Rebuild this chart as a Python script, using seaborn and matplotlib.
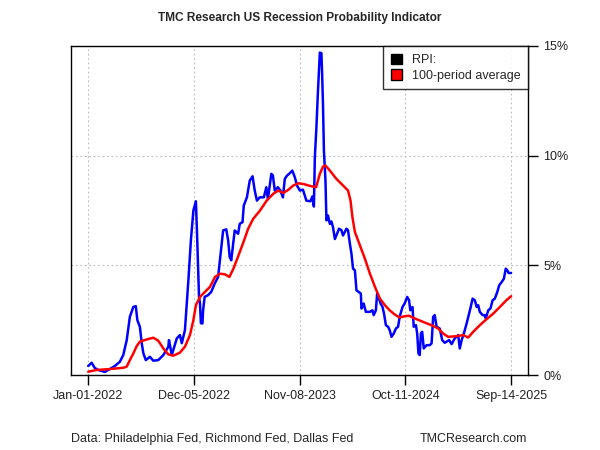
import pandas as pd
import matplotlib
matplotlib.use("Agg")
import matplotlib.pyplot as plt
import matplotlib.patches as mpatches
import seaborn as sns

# RPI readings (percent)
rpi_dates = [
    "2022-01-02", "2022-01-13", "2022-01-23", "2022-02-03", "2022-02-24", "2022-03-12",
    "2022-03-28", "2022-04-13", "2022-04-24", "2022-05-05", "2022-05-15", "2022-05-26",
    "2022-06-03", "2022-06-08", "2022-06-16", "2022-06-22", "2022-06-27", "2022-07-05",
    "2022-07-18", "2022-07-29", "2022-08-14", "2022-08-30", "2022-09-15", "2022-09-17",
    "2022-09-26", "2022-10-12", "2022-10-22", "2022-10-28", "2022-11-07", "2022-11-18",
    "2022-11-26", "2022-12-04", "2022-12-12", "2022-12-16", "2022-12-22", "2022-12-25",
    "2022-12-28", "2023-01-02", "2023-01-04", "2023-01-09", "2023-01-20", "2023-01-30",
    "2023-02-10", "2023-02-21", "2023-02-28", "2023-03-09", "2023-03-19", "2023-03-25",
    "2023-03-30", "2023-04-04", "2023-04-10", "2023-04-15", "2023-04-26", "2023-05-01",
    "2023-05-10", "2023-05-14", "2023-05-24", "2023-06-02", "2023-06-11", "2023-06-18",
    "2023-06-25", "2023-07-04", "2023-07-17", "2023-07-25", "2023-07-30", "2023-08-10",
    "2023-08-15", "2023-08-21", "2023-08-31", "2023-09-08", "2023-09-16", "2023-09-22",
    "2023-09-29", "2023-10-08", "2023-10-16", "2023-10-24", "2023-10-31", "2023-11-09",
    "2023-11-19", "2023-11-30", "2023-12-13", "2023-12-19", "2023-12-24", "2023-12-27",
    "2024-01-01", "2024-01-06", "2024-01-12", "2024-01-17", "2024-01-19", "2024-01-22",
    "2024-01-25", "2024-01-30", "2024-02-02", "2024-02-07", "2024-02-13", "2024-02-18",
    "2024-02-23", "2024-02-29", "2024-03-07", "2024-03-13", "2024-03-21", "2024-03-26",
    "2024-04-06", "2024-04-11", "2024-04-17", "2024-04-22", "2024-04-27", "2024-05-03",
    "2024-05-08", "2024-05-15", "2024-05-22", "2024-05-24", "2024-05-31", "2024-06-07",
    "2024-06-20", "2024-06-28", "2024-07-02", "2024-07-09", "2024-07-13", "2024-07-19",
    "2024-07-24", "2024-07-30", "2024-08-04", "2024-08-10", "2024-08-17", "2024-08-22",
    "2024-08-28", "2024-09-04", "2024-09-11", "2024-09-18", "2024-09-23", "2024-10-02",
    "2024-10-09", "2024-10-17", "2024-10-23", "2024-10-27", "2024-11-03", "2024-11-07",
    "2024-11-14", "2024-11-18", "2024-11-22", "2024-11-26", "2024-11-30", "2024-12-04",
    "2024-12-09", "2024-12-18", "2024-12-28", "2025-01-03", "2025-01-08", "2025-01-13",
    "2025-01-19", "2025-01-29", "2025-02-06", "2025-02-14", "2025-02-28", "2025-03-08",
    "2025-03-18", "2025-03-29", "2025-04-03", "2025-04-09", "2025-04-16", "2025-04-25",
    "2025-05-03", "2025-05-08", "2025-05-14", "2025-05-21", "2025-05-27", "2025-06-01",
    "2025-06-06", "2025-06-15", "2025-06-22", "2025-06-25", "2025-07-03", "2025-07-10",
    "2025-07-17", "2025-07-24", "2025-08-01", "2025-08-07", "2025-08-15", "2025-08-22",
    "2025-08-28", "2025-09-02", "2025-09-06", "2025-09-14",
]
rpi_values = [
    0.41, 0.56, 0.32, 0.23, 0.14, 0.27,
    0.41, 0.60, 0.91, 1.59, 2.65, 3.10,
    3.14, 2.50, 2.20, 1.45, 1.00, 0.68,
    0.83, 0.65, 0.68, 0.91, 1.29, 1.59,
    0.91, 1.67, 1.82, 1.45, 2.05, 4.32,
    6.14, 7.50, 7.92, 6.30, 3.56, 3.27,
    2.36, 2.35, 2.95, 3.56, 3.64, 3.79,
    4.17, 4.47, 5.38, 6.59, 6.64, 6.14,
    5.38, 5.23, 5.98, 6.59, 6.44, 6.89,
    6.97, 7.73, 8.10, 8.86, 9.06, 8.41,
    7.95, 8.10, 8.10, 8.56, 8.02, 9.17,
    9.10, 8.41, 8.56, 8.41, 8.10, 8.94,
    9.09, 9.20, 9.32, 9.02, 8.64, 8.41,
    8.45, 7.95, 7.92, 8.14, 7.68, 9.92,
    11.29, 12.95, 14.70, 14.67, 13.86, 12.35,
    10.23, 8.86, 7.05, 7.27, 6.89, 7.00,
    6.74, 6.20, 6.44, 6.67, 6.60, 6.36,
    6.67, 6.60, 5.98, 5.53, 4.85, 4.77,
    3.86, 3.79, 3.71, 3.03, 3.26, 2.88,
    2.88, 2.95, 2.73, 2.95, 3.71, 3.48,
    3.26, 3.11, 2.80, 2.27, 2.20, 2.05,
    1.74, 1.89, 2.12, 2.20, 2.65, 3.10,
    3.26, 3.56, 3.41, 2.95, 3.10, 2.20,
    2.27, 1.89, 0.98, 0.91, 1.90, 1.97,
    1.21, 1.36, 1.36, 1.44, 2.65, 2.73,
    2.20, 2.12, 1.59, 1.47, 1.59, 1.41,
    1.67, 1.82, 1.21, 1.59, 1.89, 2.35,
    2.80, 3.10, 3.48, 3.41, 3.10, 3.18,
    2.88, 2.73, 2.73, 2.58, 2.95, 3.03,
    3.41, 3.48, 3.79, 4.09, 4.24, 4.39,
    4.85, 4.77, 4.65, 4.65,
]

# 100-period average (percent)
avg_dates = [
    "2022-01-02", "2022-01-29", "2022-03-12", "2022-04-24", "2022-05-05", "2022-05-15",
    "2022-05-26", "2022-06-06", "2022-06-16", "2022-07-08", "2022-07-29", "2022-08-14",
    "2022-08-30", "2022-09-15", "2022-10-01", "2022-10-22", "2022-11-07", "2022-11-23",
    "2022-12-04", "2022-12-12", "2022-12-25", "2023-01-10", "2023-01-26", "2023-02-11",
    "2023-02-27", "2023-03-15", "2023-03-29", "2023-04-11", "2023-04-27", "2023-05-13",
    "2023-05-28", "2023-06-13", "2023-07-05", "2023-07-26", "2023-08-16", "2023-09-01",
    "2023-09-17", "2023-10-03", "2023-10-19", "2023-11-04", "2023-11-20", "2023-12-12",
    "2023-12-31", "2024-01-12", "2024-01-22", "2024-01-30", "2024-02-13", "2024-03-05",
    "2024-03-26", "2024-04-11", "2024-04-19", "2024-04-25", "2024-05-03", "2024-05-19",
    "2024-06-04", "2024-06-20", "2024-07-06", "2024-07-22", "2024-08-07", "2024-08-22",
    "2024-09-07", "2024-09-23", "2024-10-09", "2024-10-23", "2024-11-10", "2024-12-07",
    "2025-01-03", "2025-01-24", "2025-02-09", "2025-02-25", "2025-03-24", "2025-04-14",
    "2025-04-30", "2025-05-16", "2025-06-06", "2025-06-28", "2025-07-19", "2025-08-09",
    "2025-08-30", "2025-09-14",
]
avg_values = [
    0.15, 0.23, 0.27, 0.33, 0.38, 0.68,
    0.98, 1.32, 1.52, 1.62, 1.70, 1.56,
    1.21, 0.94, 0.88, 1.02, 1.29, 1.82,
    2.50, 3.18, 3.56, 3.79, 4.02, 4.47,
    4.62, 4.59, 4.47, 4.85, 5.45, 6.06,
    6.67, 7.12, 7.50, 7.95, 8.26, 8.41,
    8.30, 8.44, 8.64, 8.74, 8.71, 8.62,
    8.56, 9.17, 9.50, 9.55, 9.32, 8.94,
    8.64, 8.41, 7.95, 7.20, 6.52, 5.91,
    5.30, 4.62, 4.02, 3.48, 3.18, 2.95,
    2.76, 2.62, 2.68, 2.70, 2.58, 2.42,
    2.27, 2.12, 1.89, 1.74, 1.77, 1.82,
    1.71, 1.97, 2.27, 2.55, 2.80, 3.10,
    3.41, 3.59,
]

tick_dates = ["2022-01-01", "2022-12-05", "2023-11-08", "2024-10-11", "2025-09-14"]
y_ticks = [0, 5, 10, 15]

rpi = pd.DataFrame({"date": pd.to_datetime(rpi_dates), "value": rpi_values})
avg = pd.DataFrame({"date": pd.to_datetime(avg_dates), "value": avg_values})

sns.set_style("white")
plt.rcParams["font.family"] = ["Liberation Sans", "DejaVu Sans"]

fig = plt.figure(figsize=(6, 4.5), dpi=100)
ax = fig.add_axes([71 / 600, 1 - 375 / 450, (528 - 71) / 600, (375 - 46) / 450])

sns.lineplot(data=rpi, x="date", y="value", color="#0000FF", linewidth=1.8, ax=ax)
sns.lineplot(data=avg, x="date", y="value", color="#FF0000", linewidth=1.8, ax=ax)

ticks = pd.to_datetime(tick_dates)
ax.set_xlim(ticks[0] - pd.Timedelta(days=54), ticks[-1] + pd.Timedelta(days=54))
ax.set_ylim(0, 15)
ax.set_xticks(ticks)
ax.set_xticklabels([t.strftime("%b-%d-%Y") for t in ticks])
ax.set_yticks(y_ticks)
ax.set_yticklabels([f"{v}%" for v in y_ticks])
ax.yaxis.tick_right()
ax.tick_params(axis="both", direction="out", length=7, width=1, color="black",
               labelsize=9, labelcolor="#222222", pad=4,
               bottom=True, right=True, left=False)
ax.set_xlabel("")
ax.set_ylabel("")

ax.grid(True, color="#BBBBBB", linestyle=(0, (1.5, 2.5)), linewidth=0.8)
for s in ax.spines.values():
    s.set_color("black")
    s.set_linewidth(1.0)

handles = [
    mpatches.Patch(facecolor="black", edgecolor="black", label="RPI:"),
    mpatches.Patch(facecolor="#FF0000", edgecolor="black", label="100-period average"),
]
leg = ax.legend(handles=handles, loc="upper right", borderaxespad=0, fontsize=9,
                frameon=True, fancybox=False, handlelength=0.9, handleheight=0.9,
                handletextpad=0.8, borderpad=0.6, labelspacing=0.25)
leg.get_frame().set_edgecolor("black")
leg.get_frame().set_linewidth(1.0)

fig.text(0.5, 1 - 18 / 450, "TMC Research US Recession Probability Indicator",
         ha="center", va="center", fontsize=8.6, fontweight="bold")
fig.text(71 / 600, 1 - 439 / 450, "Data: Philadelphia Fed, Richmond Fed, Dallas Fed",
         ha="left", va="center", fontsize=9)
fig.text(527 / 600, 1 - 439 / 450, "TMCResearch.com",
         ha="right", va="center", fontsize=9)

fig.savefig("out.png", dpi=100)
